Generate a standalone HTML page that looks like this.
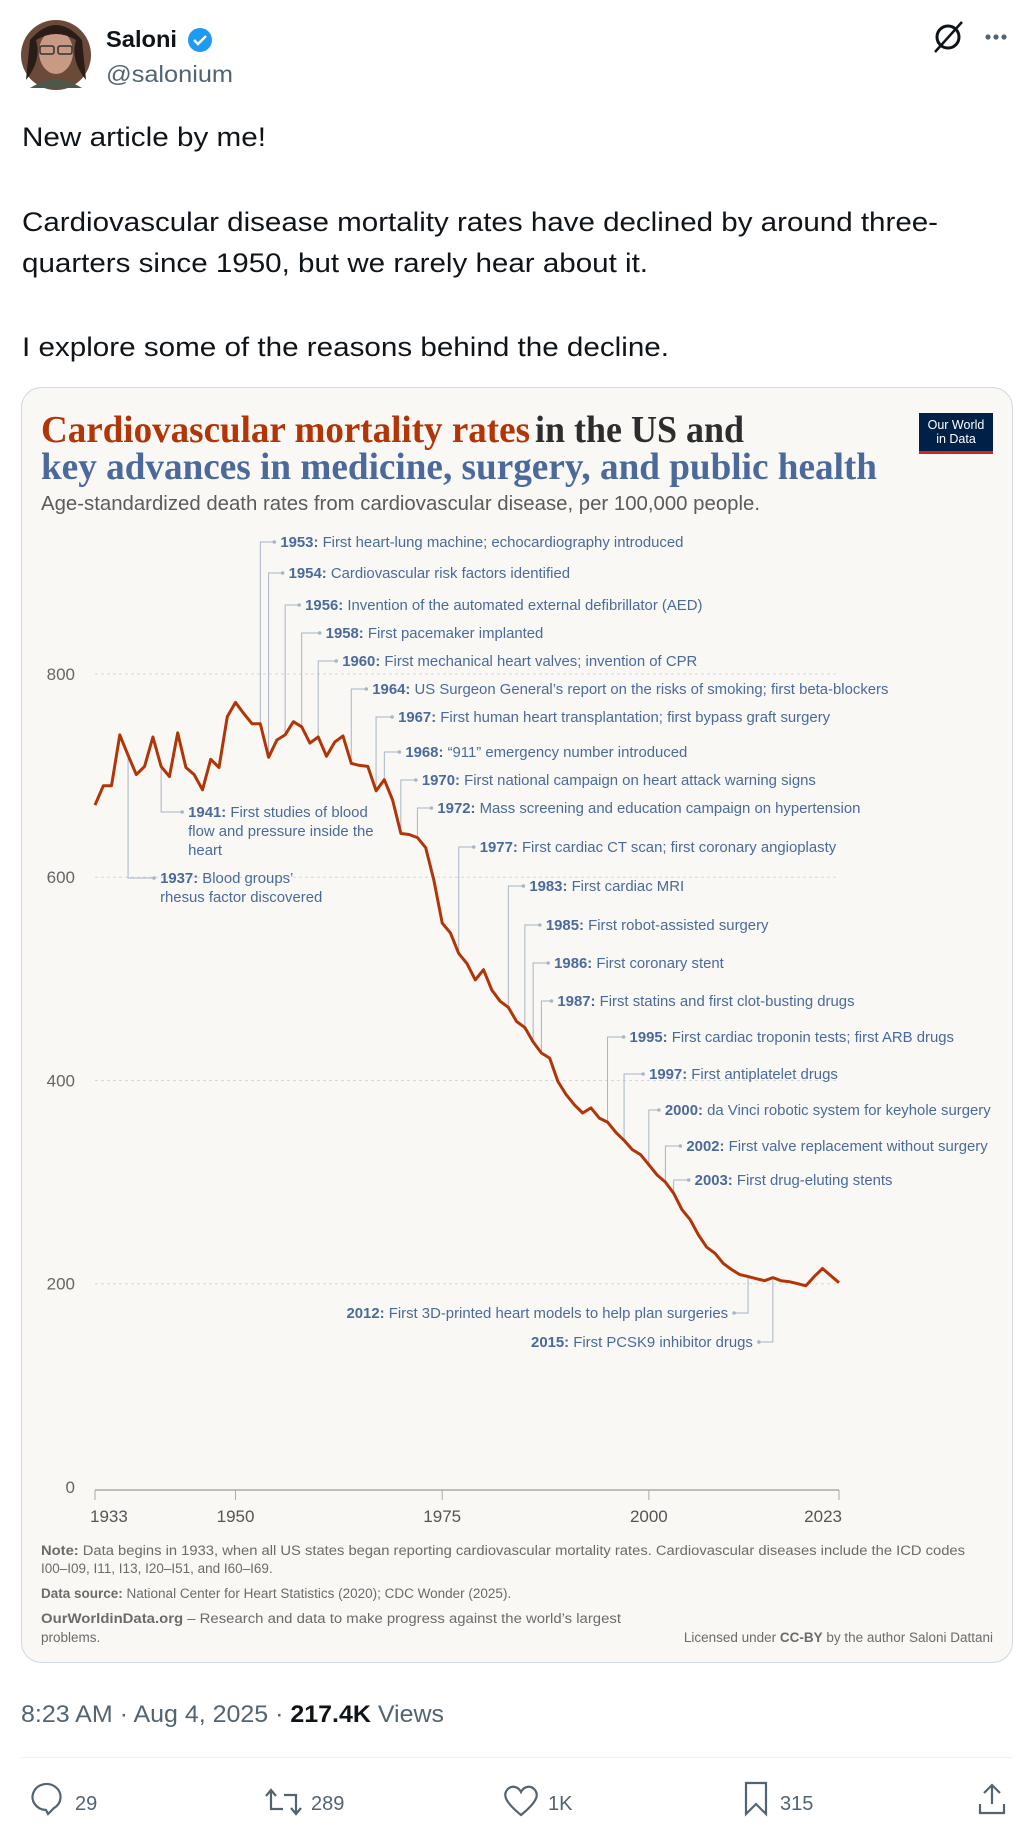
<!DOCTYPE html>
<html><head><meta charset="utf-8">
<style>
html,body{margin:0;padding:0;background:#fff;}
svg{display:block;}
text{font-family:"Liberation Sans",sans-serif;}
.ann{font-size:14.9px;fill:#4b6a9b;}
.foot{font-size:13.5px;fill:#6b6b6b;}
</style></head>
<body>
<svg id="page" width="1023" height="1830" viewBox="0 0 1023 1830" xmlns="http://www.w3.org/2000/svg">
  <g>
    <circle cx="56" cy="55" r="35" fill="#6b4a3a"/>
    <ellipse cx="56" cy="52" rx="17" ry="22" fill="#c89a84"/>
    <path d="M30 40 Q56 10 82 40 L86 80 Q70 60 76 40 Q56 28 36 40 Q42 60 26 80 Z" fill="#2a1c16"/>
    <rect x="40" y="46" width="14" height="8" rx="2" fill="none" stroke="#333" stroke-width="1.5"/>
    <rect x="58" y="46" width="14" height="8" rx="2" fill="none" stroke="#333" stroke-width="1.5"/>
    <path d="M30 88 Q56 72 82 88" fill="#4a5a4a"/>
  </g>
  <text x="106" y="47" font-size="23" font-weight="bold" fill="#0f1419" textLength="71" lengthAdjust="spacingAndGlyphs">Saloni</text>
  <g>
    <circle cx="200" cy="40" r="12" fill="#1d9bf0"/>
    <path d="M194 40 l4 4 l8 -8" fill="none" stroke="#fff" stroke-width="2.5"/>
  </g>
  <text x="106" y="82" font-size="23" fill="#536471" textLength="127" lengthAdjust="spacingAndGlyphs">@salonium</text>
  <g>
    <circle cx="948" cy="37" r="11" fill="none" stroke="#0f1419" stroke-width="3"/>
    <line x1="935" y1="52" x2="962" y2="22" stroke="#0f1419" stroke-width="2.5"/>
  </g>
  <g fill="#536471">
    <circle cx="988" cy="37" r="2.6"/><circle cx="996" cy="37" r="2.6"/><circle cx="1004" cy="37" r="2.6"/>
  </g>
  <g font-size="27" fill="#0f1419">
    <text x="22" y="146" textLength="244" lengthAdjust="spacingAndGlyphs">New article by me!</text>
    <text x="22" y="231" textLength="916" lengthAdjust="spacingAndGlyphs">Cardiovascular disease mortality rates have declined by around three-</text>
    <text x="22" y="272" textLength="626" lengthAdjust="spacingAndGlyphs">quarters since 1950, but we rarely hear about it.</text>
    <text x="22" y="356" textLength="647" lengthAdjust="spacingAndGlyphs">I explore some of the reasons behind the decline.</text>
  </g>
  <rect x="21.5" y="387.5" width="991" height="1275" rx="20" fill="#f9f8f4" stroke="#cfd9de"/>
  <text x="41" y="442" font-size="38" font-weight="bold" fill="#b13507" textLength="489" lengthAdjust="spacingAndGlyphs" style="font-family:'Liberation Serif',serif">Cardiovascular mortality rates</text>
  <text x="535" y="442" font-size="38" font-weight="bold" fill="#2d2d2d" textLength="209" lengthAdjust="spacingAndGlyphs" style="font-family:'Liberation Serif',serif">in the US and</text>
  <text x="41" y="479" font-size="38" font-weight="bold" fill="#4b6a9b" textLength="836" lengthAdjust="spacingAndGlyphs" style="font-family:'Liberation Serif',serif">key advances in medicine, surgery, and public health</text>
  <text x="41" y="510" font-size="20" fill="#5b5b5b" textLength="719" lengthAdjust="spacingAndGlyphs">Age-standardized death rates from cardiovascular disease, per 100,000 people.</text>
  <g>
    <rect x="919" y="413" width="74" height="41" fill="#002147"/>
    <rect x="919" y="451" width="74" height="3" fill="#ce261e"/>
    <text x="956" y="429" font-size="12.5" fill="#fff" text-anchor="middle">Our World</text>
    <text x="956" y="443" font-size="12.5" fill="#fff" text-anchor="middle">in Data</text>
  </g>
  <g id="chart"></g>
  <g>
    <text class="foot" x="41" y="1555" textLength="924" lengthAdjust="spacingAndGlyphs"><tspan font-weight="bold">Note:</tspan> Data begins in 1933, when all US states began reporting cardiovascular mortality rates. Cardiovascular diseases include the ICD codes</text>
    <text class="foot" x="41" y="1573">I00–I09, I11, I13, I20–I51, and I60–I69.</text>
    <text class="foot" x="41" y="1598"><tspan font-weight="bold">Data source:</tspan> National Center for Heart Statistics (2020); CDC Wonder (2025).</text>
    <text class="foot" x="41" y="1623" textLength="580" lengthAdjust="spacingAndGlyphs"><tspan font-weight="bold">OurWorldinData.org</tspan> – Research and data to make progress against the world’s largest</text>
    <text class="foot" x="41" y="1642">problems.</text>
    <text class="foot" x="993" y="1642" text-anchor="end">Licensed under <tspan font-weight="bold">CC-BY</tspan> by the author Saloni Dattani</text>
  </g>
  <text x="21" y="1722" font-size="24" fill="#536471" textLength="423" lengthAdjust="spacingAndGlyphs">8:23 AM · Aug 4, 2025 · <tspan fill="#0f1419" font-weight="bold">217.4K</tspan> Views</text>
  <line x1="21" y1="1757.5" x2="1013" y2="1757.5" stroke="#eff3f4" stroke-width="1"/>
  <g fill="none" stroke="#536471" stroke-width="2.2">
    <g>
      <path d="M48 1814 l-2 -4 a14 13 0 1 1 8 -2 z"/>
    </g>
    <g>
      <path d="M271 1791 v18 h12 M266 1796 l5 -6 l5 6 M296 1813 v-18 h-12 M291 1808 l5 6 l5 -6"/>
    </g>
    <g>
      <path d="M521 1815 C505 1802 503 1795 507 1790 C511 1785 518 1786 521 1792 C524 1786 531 1785 535 1790 C539 1795 537 1802 521 1815 Z"/>
    </g>
    <g>
      <path d="M746 1783 h20 v31 l-10 -10 l-10 10 z"/>
    </g>
    <g>
      <path d="M992 1786 v18 M984 1793 l8 -8 l8 8 M980 1804 v9 h24 v-9"/>
    </g>
  </g>
  <g font-size="20" fill="#536471">
    <text x="75" y="1810">29</text>
    <text x="311" y="1810">289</text>
    <text x="548" y="1810">1K</text>
    <text x="780" y="1810">315</text>
  </g>
</svg>
<script>
const startYear = 1933;
const rates = [671,690,690,740,720,701,709,738,709,699,742,708,701,686,716,708,758,772,761,751,751,718,735,740,753,748,732,738,719,733,739,712,710,709,685,696,676,643,642,639,629,597,555,545,525,515,499,509,489,478,472,458,452,438,427,422,399,386,376,368,373,363,359,349,341,332,327,317,307,300,289,273,263,248,236,230,220,214,209,207,205,203,206,203,202,200,198,207,215,208,201];
const yTicks = [0,200,400,600,800];
const xTicks = [1933,1950,1975,2000,2023];
const annYears = [1953,1954,1956,1958,1960,1964,1967,1968,1970,1972,1977,1983,1985,1986,1987,1995,1997,2000,2002,2003,2012,2015,1941,1937];
const annBold = ["1953:","1954:","1956:","1958:","1960:","1964:","1967:","1968:","1970:","1972:","1977:","1983:","1985:","1986:","1987:","1995:","1997:","2000:","2002:","2003:","2012:","2015:","1941:","1937:"];
const annText = [
 ["First heart-lung machine; echocardiography introduced"],
 ["Cardiovascular risk factors identified"],
 ["Invention of the automated external defibrillator (AED)"],
 ["First pacemaker implanted"],
 ["First mechanical heart valves; invention of CPR"],
 ["US Surgeon General’s report on the risks of smoking; first beta-blockers"],
 ["First human heart transplantation; first bypass graft surgery"],
 ["“911” emergency number introduced"],
 ["First national campaign on heart attack warning signs"],
 ["Mass screening and education campaign on hypertension"],
 ["First cardiac CT scan; first coronary angioplasty"],
 ["First cardiac MRI"],
 ["First robot-assisted surgery"],
 ["First coronary stent"],
 ["First statins and first clot-busting drugs"],
 ["First cardiac troponin tests; first ARB drugs"],
 ["First antiplatelet drugs"],
 ["da Vinci robotic system for keyhole surgery"],
 ["First valve replacement without surgery"],
 ["First drug-eluting stents"],
 ["First 3D-printed heart models to help plan surgeries"],
 ["First PCSK9 inhibitor drugs"],
 ["First studies of blood","flow and pressure inside the","heart"],
 ["Blood groups’","rhesus factor discovered"]
];
const annLabelY = [546,577,609,637,665,693,721,756,784,812,851,890,929,967,1005,1041,1078,1114,1150,1184,1317,1346,816,882];
const annDx = [20,20,20,24,24,21,22,21,21,20,21,21,21,21,16,22,25,16,21,21,-20,-20,27,32];

const NS="http://www.w3.org/2000/svg";
const g=document.getElementById('chart');
const x0=95,x1=839,y0=1487,pxPerUnit=1.0163;
function xScale(yr){return x0+(yr-1933)*(x1-x0)/(2023-1933);}
function yScale(v){return y0-v*pxPerUnit;}
function mk(tag,attrs){const e=document.createElementNS(NS,tag);for(const k in attrs)e.setAttribute(k,attrs[k]);return e;}

yTicks.forEach(t=>{
  if(t>0){
    const l=mk('line',{x1:x0,x2:x1,y1:yScale(t),y2:yScale(t),stroke:'#d8d8d8','stroke-dasharray':'3,3'});
    
    
    g.appendChild(l);
  }
  const tx=mk('text',{x:75,y:yScale(t)+6,'text-anchor':'end','font-size':'17',fill:'#666'});
  tx.textContent=t;
  
  
  g.appendChild(tx);
});
const ax=mk('line',{x1:x0,x2:x1,y1:1490,y2:1490,stroke:'#aaa','stroke-width':'1.5'});


g.appendChild(ax);
xTicks.forEach(t=>{
  const tl=mk('line',{x1:xScale(t),x2:xScale(t),y1:1490,y2:1500,stroke:'#aaa'});
  
  
  g.appendChild(tl);
  const anchor=t===1933?'start':(t===2023?'end':'middle');
  const tx=mk('text',{x:t===1933?xScale(t)-5:(t===2023?xScale(t)+3:xScale(t)),y:1522,'text-anchor':anchor,'font-size':'17',fill:'#555'});
  tx.textContent=t;
  
  
  g.appendChild(tx);
});
annYears.forEach((yr,i)=>{
  const vx=xScale(yr), vy=yScale(rates[yr-startYear]), ly=annLabelY[i]-4;
  const left=annDx[i]<0;
  const tx0=vx+annDx[i];
  const dotX=left?tx0+6:tx0-6;
  const p=mk('path',{d:`M${vx} ${vy} V${ly} H${dotX}`,fill:'none',stroke:'#a9b4c6','stroke-width':'1'});
  
  
  g.appendChild(p);
  const c=mk('circle',{cx:dotX,cy:ly,r:1.8,fill:'#a9b4c6'});
  
  
  g.appendChild(c);
  annText[i].forEach((ln,j)=>{
    const t=mk('text',{x:tx0,y:annLabelY[i]+j*19+1,'class':'ann','text-anchor':left?'end':'start'});
    if(j===0){
      const b=mk('tspan',{'font-weight':'bold'});b.textContent=annBold[i]+' ';t.appendChild(b);
      t.appendChild(document.createTextNode(ln));
    } else t.textContent=ln;
    
    
    g.appendChild(t);
  });
});
const d=rates.map((v,i)=>(i?'L':'M')+xScale(startYear+i).toFixed(1)+' '+yScale(v).toFixed(1)).join(' ');
const line=mk('path',{d:d,fill:'none',stroke:'#b13507','stroke-width':'3','stroke-linejoin':'round'});


g.appendChild(line);
</script>
</body></html>
